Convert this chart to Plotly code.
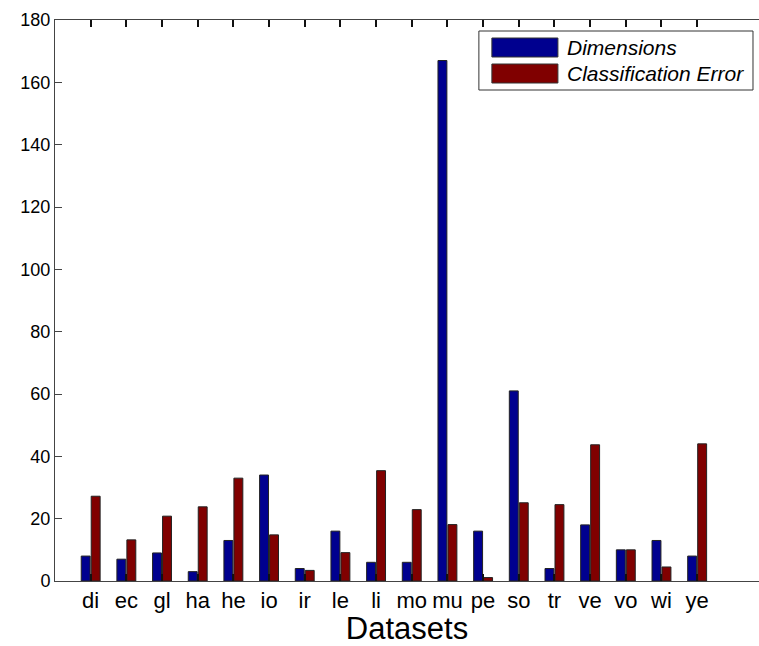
import plotly.graph_objects as go
import numpy as np

datasets = ["di", "ec", "gl", "ha", "he", "io", "ir", "le", "li", "mo",
            "mu", "pe", "so", "tr", "ve", "vo", "wi", "ye"]
dimensions = [8, 7, 9, 3, 13, 34, 4, 16, 6, 6, 167, 16, 61, 4, 18, 10, 13, 8]
class_error = [27.2, 13.2, 20.8, 23.8, 33.0, 14.8, 3.4, 9.1, 35.4, 22.9,
               18.1, 1.1, 25.1, 24.5, 43.7, 10.0, 4.5, 44.0]
y_ticks = list(range(0, 181, 20))

x = np.arange(1, len(datasets) + 1)

BLUE = "#00008F"
RED = "#800000"
EDGE = "#222222"

fig = go.Figure()
fig.add_trace(go.Bar(x=x, y=dimensions, name="Dimensions", width=0.25, offset=-0.265,
                     marker=dict(color=BLUE, line=dict(color=EDGE, width=1)), showlegend=False))
fig.add_trace(go.Bar(x=x, y=class_error, name="Classification Error", width=0.25, offset=0.015,
                     marker=dict(color=RED, line=dict(color=EDGE, width=1)), showlegend=False))

# plot area geometry in pixels
L, R, T, B = 55.3, 759, 20, 581
def px(xp):
    return (xp - L) / (R - L)
def py(yp):
    return (B - yp) / (B - T)

# custom legend (MATLAB style)
shapes = [
    dict(type="rect", xref="paper", yref="paper", x0=px(479), x1=px(753), y0=py(90), y1=py(31),
         line=dict(color="#333333", width=1), fillcolor="white", layer="above"),
    dict(type="rect", xref="paper", yref="paper", x0=px(492), x1=px(558), y0=py(57), y1=py(38),
         line=dict(color="#333333", width=1), fillcolor=BLUE, layer="above"),
    dict(type="rect", xref="paper", yref="paper", x0=px(492), x1=px(558), y0=py(83), y1=py(64),
         line=dict(color="#333333", width=1), fillcolor=RED, layer="above"),
]
annotations = [
    dict(xref="paper", yref="paper", x=px(565), y=py(47.5), text="<i>Dimensions</i>",
         showarrow=False, xanchor="left", yanchor="middle",
         font=dict(family="Liberation Sans, Arial", size=21, color="black")),
    dict(xref="paper", yref="paper", x=px(565), y=py(73.5), text="<i>Classification Error</i>",
         showarrow=False, xanchor="left", yanchor="middle",
         font=dict(family="Liberation Sans, Arial", size=21, color="black")),
]

fig.update_layout(
    width=759, height=646,
    margin=dict(l=55, r=0, t=20, b=65),
    paper_bgcolor="white", plot_bgcolor="white",
    barmode="overlay",
    font=dict(family="Liberation Sans, Arial", color="black"),
    shapes=shapes, annotations=annotations,
    xaxis=dict(range=[0, (R - L) / 35.66], tickmode="array", tickvals=x, ticktext=datasets,
               ticks="inside", ticklen=7, tickwidth=1.5, tickcolor="#111111",
               showline=True, linecolor="#444444", linewidth=1, mirror="ticks",
               showgrid=False, zeroline=False,
               tickfont=dict(size=22),
               title=dict(text="Datasets", font=dict(size=31), standoff=3)),
    yaxis=dict(range=[0, 180], tickmode="array", tickvals=y_ticks,
               ticks="inside", ticklen=7, tickwidth=1, tickcolor="#444444",
               showline=True, linecolor="#444444", linewidth=1, mirror=False,
               showgrid=False, zeroline=False,
               tickfont=dict(size=18)),
)

fig.write_html("out.html")
